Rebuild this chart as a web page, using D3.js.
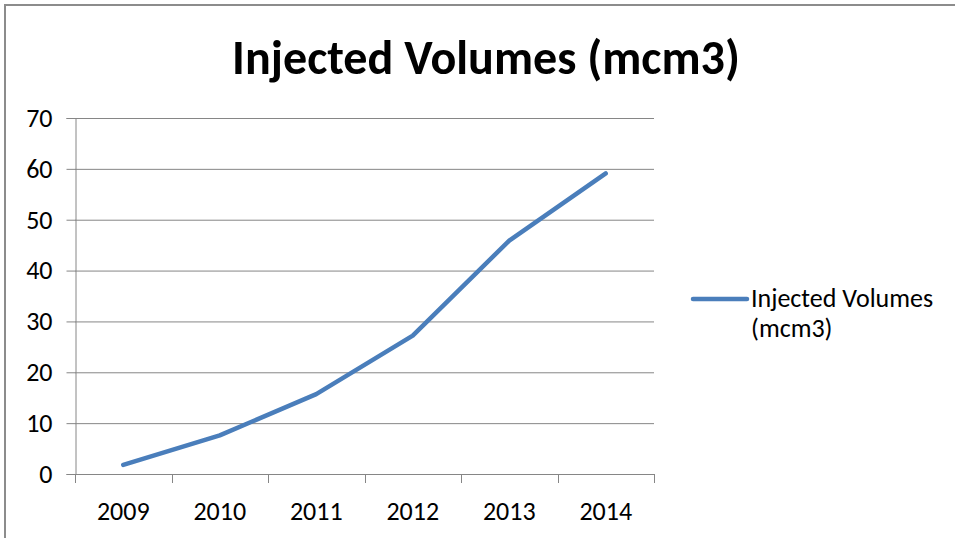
<!DOCTYPE html>
<html>
<head>
<meta charset="utf-8">
<script src="https://cdn.jsdelivr.net/npm/d3@7"></script>
<style>
  body { margin: 0; background: #fff; }
  text { font-family: Carlito, Calibri, Lato, sans-serif; fill: #000; }
</style>
</head>
<body>
<svg class="svg"></svg>
<script>
const years = ["2009", "2010", "2011", "2012", "2013", "2014"];
const volumes = [1.8, 7.6, 15.7, 27.2, 45.9, 59.1];
const yTicks = [0, 10, 20, 30, 40, 50, 60, 70];
const seriesName = ["Injected Volumes", "(mcm3)"];
const title = "Injected Volumes (mcm3)";

const metrics = { width: 955, height: 538 };
const plot = { left: 75, right: 654, top: 118, bottom: 474 };

const svg = d3.select(".svg")
  .attr("width", metrics.width)
  .attr("height", metrics.height);

// outer frame (only top and left visible in the crop)
svg.append("path")
  .attr("d", `M5,${metrics.height} V5 H${metrics.width}`)
  .attr("fill", "none")
  .attr("stroke", "#8c8c8c")
  .attr("stroke-width", 2);

const x = d3.scaleBand().domain(years).range([plot.left, plot.right]);
const y = d3.scaleLinear().domain([0, 70]).range([plot.bottom, plot.top]);

// y axis with tick stubs to the left
const yAxis = svg.append("g")
  .attr("transform", `translate(${plot.left + 0.5},0)`)
  .call(d3.axisLeft(y).tickValues(yTicks).tickSize(9).tickPadding(14))
yAxis.attr("font-family", null).attr("font-size", null);
yAxis.select(".domain").attr("stroke", "#868686");
yAxis.selectAll(".tick line").attr("stroke", "#868686");
yAxis.selectAll(".tick text").attr("font-size", 26).attr("fill", "#000");

// gridlines
svg.append("g")
  .selectAll("line")
  .data(yTicks)
  .join("line")
  .attr("x1", plot.left)
  .attr("x2", plot.right)
  .attr("y1", d => y(d) + 0.5)
  .attr("y2", d => y(d) + 0.5)
  .attr("stroke", "#868686");

// x axis with ticks on band boundaries
const xAxis = svg.append("g")
  .attr("transform", `translate(0,${plot.bottom})`);
xAxis.append("line")
  .attr("x1", plot.left).attr("x2", plot.right)
  .attr("y1", 0.5).attr("y2", 0.5)
  .attr("stroke", "#868686");
xAxis.selectAll("line.tk")
  .data(years.map(d => x(d)).concat([plot.right]))
  .join("line")
  .attr("class", "tk")
  .attr("x1", d => Math.round(d) + 0.5).attr("x2", d => Math.round(d) + 0.5)
  .attr("y1", 0).attr("y2", 9)
  .attr("stroke", "#868686");
xAxis.selectAll("text")
  .data(years)
  .join("text")
  .attr("x", d => x(d) + x.bandwidth() / 2)
  .attr("y", 46)
  .attr("text-anchor", "middle")
  .attr("font-size", 26)
  .text(d => d);

// series line
const line = d3.line()
  .x((d, i) => x(years[i]) + x.bandwidth() / 2)
  .y(d => y(d));

svg.append("path")
  .datum(volumes)
  .attr("d", line)
  .attr("fill", "none")
  .attr("stroke", "#4a7ebb")
  .attr("stroke-width", 4.5)
  .attr("stroke-linecap", "round")
  .attr("stroke-linejoin", "round");

// title
const t = svg.append("text")
  .attr("x", 486)
  .attr("y", 74)
  .attr("text-anchor", "middle")
  .attr("font-size", 36)
  .attr("font-weight", "bold")
  .text(title);
const tw = t.node().getComputedTextLength();
t.attr("font-size", 36 * 508 / tw);

// legend
const legend = svg.append("g").attr("transform", "translate(693,299)");
legend.append("line")
  .attr("x1", 0).attr("x2", 54)
  .attr("stroke", "#4a7ebb")
  .attr("stroke-width", 4.5)
  .attr("stroke-linecap", "round");
legend.selectAll("text")
  .data(seriesName)
  .join("text")
  .attr("x", 58)
  .attr("y", (d, i) => 8 + i * 30)
  .attr("font-size", 26)
  .text(d => d);
</script>
</body>
</html>
